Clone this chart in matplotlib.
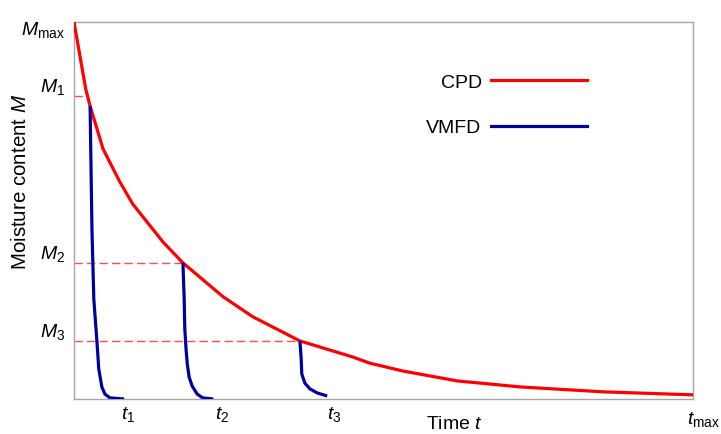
import matplotlib

matplotlib.use("Agg")
import matplotlib.pyplot as plt
from matplotlib.lines import Line2D

plt.rcParams["font.family"] = ["Liberation Sans", "DejaVu Sans"]
plt.rcParams["mathtext.fontset"] = "custom"
plt.rcParams["mathtext.rm"] = "Liberation Sans"
plt.rcParams["mathtext.it"] = "Liberation Sans:italic"

# CPD drying curve (time in % of t_max, moisture in % of M_max)
cpd_t = [0, 1.9, 2.6, 4.7, 7.4, 9.5, 14.4, 17.6, 24.1, 28.9, 36.5, 45.1,
         47.8, 53.2, 61.9, 72.1, 85.5, 100]
cpd_m = [100, 82.2, 77.7, 66.3, 57.6, 51.7, 41.6, 36.1, 27.1, 21.8, 15.4,
         11.1, 9.5, 7.4, 4.8, 3.2, 1.9, 1.1]

# VMFD curves, one per switch point
vmfd_1_t = [2.6, 2.9, 3.2, 3.7, 4.0, 4.5, 5.0, 5.8, 8.1]
vmfd_1_m = [77.7, 45.1, 26.5, 15.4, 8.0, 3.2, 1.3, 0.3, 0.0]
vmfd_2_t = [17.6, 17.8, 17.9, 18.1, 18.3, 18.6, 19.1, 19.9, 20.8, 22.5]
vmfd_2_m = [36.1, 26.5, 18.6, 13.3, 9.3, 5.8, 3.4, 1.3, 0.3, 0.0]
vmfd_3_t = [36.5, 36.7, 36.8, 37.3, 38.1, 39.3, 40.9]
vmfd_3_m = [15.4, 10.6, 6.6, 4.2, 2.7, 1.6, 0.8]

level_labels = ["$M_1$", "$M_2$", "$M_3$"]
level_m = [80.4, 36.1, 15.4]
level_t = [2.1, 17.6, 36.5]

time_labels = ["$t_1$", "$t_2$", "$t_3$"]
time_t = [8.7, 23.9, 42.0]

red = "#ff0000"
blue = "#0000a0"

fig = plt.figure(figsize=(7.21, 4.35), dpi=100)
ax = fig.add_axes([74 / 721, 35 / 435, 619 / 721, 377 / 435])

ax.plot(cpd_t, cpd_m, color=red, lw=2.3, solid_capstyle="butt", zorder=3)
for ts, ms in [(vmfd_1_t, vmfd_1_m), (vmfd_2_t, vmfd_2_m), (vmfd_3_t, vmfd_3_m)]:
    ax.plot(ts, ms, color=blue, lw=2.3, solid_capstyle="butt", zorder=4)

for m, t in zip(level_m, level_t):
    ax.plot([0, t], [m, m], color="#ff4d4d", lw=1.0, dashes=(6, 3), zorder=2)

ax.set_xlim(0, 100)
ax.set_ylim(0, 100)
ax.set_xticks([])
ax.set_yticks([])
for spine in ax.spines.values():
    spine.set_color("#a6a6a6")
    spine.set_linewidth(1.0)

label_x = -0.0145
yt = ax.get_yaxis_transform()
xt = ax.get_xaxis_transform()
ax.text(label_x, 100.8, r"$M_{\mathrm{max}}$", ha="right", va="top",
        fontsize=14, transform=yt)
for label, m in zip(level_labels, level_m):
    ax.text(label_x, m, label, ha="right", va="bottom", fontsize=14,
            transform=yt)
for label, t in zip(time_labels, time_t):
    ax.text(t, -0.013, label, ha="center", va="top", fontsize=14,
            transform=xt)
ax.text(0.99, -0.027, r"$t_{\mathrm{max}}$", ha="left", va="top",
        fontsize=14, transform=ax.transAxes)

ax.set_xlabel("Time $t$", fontsize=14, va="center")
ax.xaxis.set_label_coords(0.615, -0.066)
ax.set_ylabel("Moisture content $M$", fontsize=14.8, va="center")
ax.yaxis.set_label_coords(-0.087, 0.58)

handles = [Line2D([], [], color=red, lw=2.3), Line2D([], [], color=blue, lw=2.3)]
ax.legend(handles, ["CPD", "VMFD"], loc="upper left",
          bbox_to_anchor=(0.541, 0.911), frameon=False, markerfirst=False,
          fontsize=14, handlelength=4.9, labelspacing=1.45, handletextpad=0.5)

fig.savefig("out.png", dpi=100)
